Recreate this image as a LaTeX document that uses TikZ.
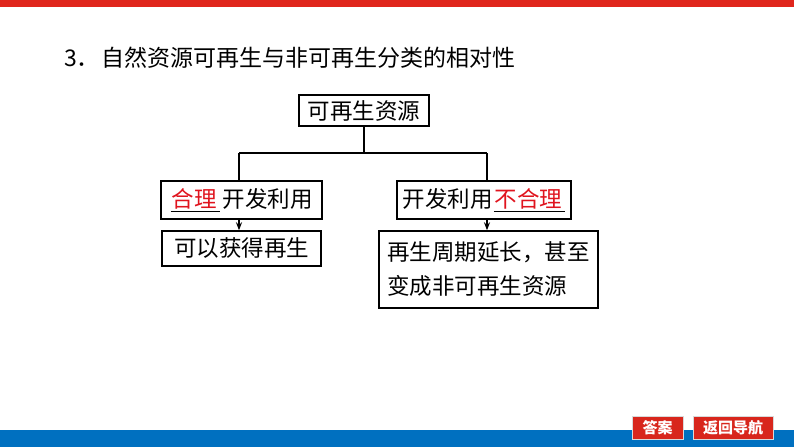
\documentclass[tikz,border=0pt]{standalone}
\usepackage{fontspec}
\setmainfont{Noto Sans CJK SC}
\usetikzlibrary{arrows.meta}
\definecolor{topred}{HTML}{E0261C}
\definecolor{barblue}{HTML}{0070C0}
\definecolor{btnred}{HTML}{D8261C}
\definecolor{ansred}{HTML}{E0141E}
\tikzset{
  box/.style={draw=black, line width=1.4pt, inner sep=0pt, align=center, font=\fontsize{22.5}{27}\selectfont},
  conn/.style={line width=1.3pt},
  arr/.style={line width=1.3pt, -{Stealth[length=8pt,width=6pt]}},
  btn/.style={fill=btnred, draw=black!15, line width=1pt, text=white, inner sep=0pt, font=\fontsize{15}{18}\selectfont\bfseries}
}
\newcommand{\ans}[1]{\underline{\hspace{1pt}\textcolor{ansred}{#1}\hspace{3pt}}}
\begin{document}
\begin{tikzpicture}[x=1pt,y=-1pt]
\useasboundingbox (0,0) rectangle (794,447);
\fill[white] (0,0) rectangle (794,447);
\fill[topred] (0,0) rectangle (794,7);
\fill[barblue] (0,430) rectangle (794,447);
\node[anchor=west, inner sep=0pt, font=\fontsize{23}{28}\selectfont] (title) at (64,58) {3．\hspace{2pt}自然资源可再生与非可再生分类的相对性};
\node[box, minimum width=130pt, minimum height=31pt] (top) at (364,110.5) {可再生资源};
\node[box, minimum width=161pt, minimum height=38pt] (L1) at (241.5,200) {\ans{合理}\hspace{3pt}开发利用};
\node[box, minimum width=174pt, minimum height=38pt] (R1) at (484,200) {开发利用\hspace{1pt}\ans{不合理}};
\node[box, minimum width=159pt, minimum height=35pt] (L2) at (241.5,248.5) {可以获得再生};
\node[box, minimum width=219pt, minimum height=77pt, align=left, font=\fontsize{22.5}{34}\selectfont] (R2) at (488.5,269.5) {再生周期延长，甚至\\变成非可再生资源};
\coordinate (bl) at (239,153);
\coordinate (br) at (487,153);
\draw[conn] (top.south) -- (top.south|-bl);
\draw[conn] (bl) -- (br);
\draw[conn] (bl) -- (bl|-L1.north);
\draw[conn] (br) -- (br|-R1.north);
\draw[arr] (bl|-L1.south) -- (bl|-L2.north);
\draw[arr] (br|-R1.south) -- (br|-R2.north);
\node[btn, minimum width=51pt, minimum height=23pt] (b1) at (657.5,427.5) {答案};
\node[btn, minimum width=80pt, minimum height=23pt] (b2) at (733,427.5) {返回导航};
\end{tikzpicture}
\end{document}
